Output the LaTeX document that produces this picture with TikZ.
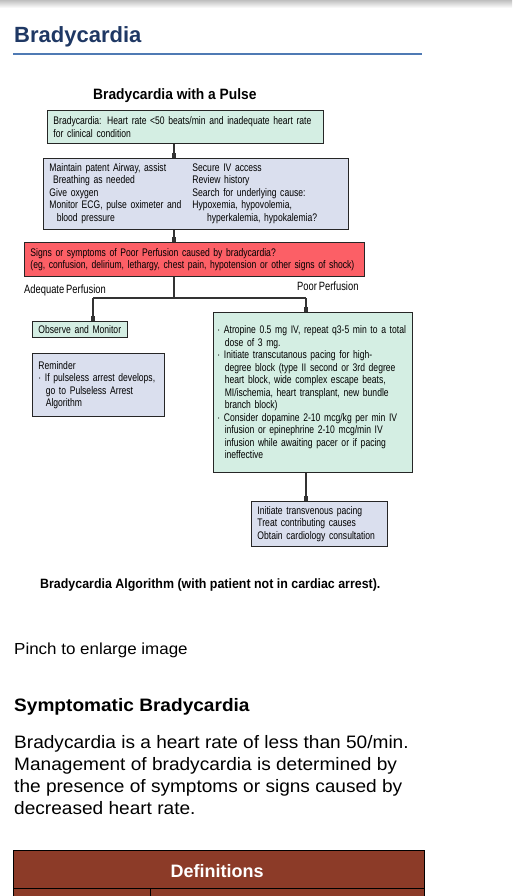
\documentclass[tikz,border=0pt]{standalone}
\usepackage{fontspec}
\setmainfont{Liberation Sans}
\newfontfamily\condfont[FakeStretch=0.78, WordSpace=0.75]{Liberation Sans}
\newfontfamily\capfont[FakeStretch=0.92]{Liberation Sans}
\newfontfamily\pagefont[FakeStretch=1.06]{Liberation Sans}
\usetikzlibrary{
    arrows.meta,
    positioning
}

\definecolor{headblue}{HTML}{1F3864}
\definecolor{ruleblue}{HTML}{4F7AB4}
\definecolor{boxgreen}{HTML}{D4EEE3}
\definecolor{boxlav}{HTML}{DADFEE}
\definecolor{boxred}{HTML}{FC5F66}
\definecolor{linegray}{HTML}{333333}
\definecolor{tablebrown}{HTML}{8C3B28}

\tikzset{
    algbox/.style={draw=black!85, line width=0.9pt, anchor=north west,
        inner xsep=6pt, inner ysep=2pt, align=left,
        font=\condfont\fontsize{11}{12.5}\selectfont},
    flow/.style={draw=linegray, line width=1.5pt},
    flowtip/.style={flow, -{Rectangle[length=5pt,width=4.5pt]}},
    branchlabel/.style={anchor=base west, inner sep=0pt,
        font=\condfont\fontsize{12}{14}\selectfont}
}

\begin{document}
\begin{tikzpicture}[x=1pt, y=-1pt]
                        \useasboundingbox (0,0) rectangle (512,896);
                        \fill[white] (0,0) rectangle (512,896);
                        \shade[top color=black!25, bottom color=white] (0,0) rectangle (512,8);

                        % page heading
                        \node[anchor=base west, inner sep=0pt, text=headblue,
                            font=\bfseries\fontsize{22}{26}\selectfont] (head) at (14,43) {Bradycardia};
                        \draw[ruleblue, line width=2pt] (13,54.5) -- (422,54.5);

                        % algorithm
                        \node[anchor=base west, inner sep=0pt,
                            font=\capfont\bfseries\fontsize{15}{17}\selectfont] (title) at (93,100) {Bradycardia with a Pulse};

                        \node[algbox, fill=boxgreen, text width=264pt, minimum height=33pt] (brady) at (47,110)
                            {Bradycardia: Heart rate <50 beats/min and inadequate heart rate\\for clinical condition};
                        \node[algbox, fill=boxlav, text width=293pt, minimum height=71pt] (support) at (43,158)
                            {\begin{tabular}{@{}p{143pt}@{}l@{}}
                                Maintain patent Airway, assist & Secure IV access\\
                                \ Breathing as needed & Review history\\
                                Give oxygen & Search for underlying cause:\\
                                Monitor ECG, pulse oximeter and & Hypoxemia, hypovolemia,\\
                                \ \ blood pressure & \ \ \ \ hyperkalemia, hypokalemia?
                            \end{tabular}};
                        \node[algbox, fill=boxred, text width=328pt, minimum height=34pt] (perf) at (24,242)
                            {Signs or symptoms of Poor Perfusion caused by bradycardia?\\(eg, confusion, delirium, lethargy, chest pain, hypotension or other signs of shock)};

                        \coordinate (split) at (174,298);
                        \coordinate (adeq) at (93,298);
                        \coordinate (poor) at (306,298);
                        \node[branchlabel] (adeqlbl) at (24,293) {Adequate Perfusion};
                        \node[branchlabel] (poorlbl) at (297,290) {Poor Perfusion};

                        \node[algbox, fill=boxgreen, text width=83pt, minimum height=16pt, inner ysep=1pt] (observe) at (32,321)
                            {Observe and Monitor};
                        \node[algbox, fill=boxlav, text width=120pt, minimum height=63pt] (remind) at (32,353)
                            {Reminder\\· If pulseless arrest develops,\\\ \ go to Pulseless Arrest\\\ \ Algorithm};
                        \node[algbox, fill=boxgreen, text width=191pt, inner xsep=4pt, minimum height=160pt] (atropine) at (213,312)
                            {· Atropine 0.5 mg IV, repeat q3-5 min to a total\\
                             \ \ dose of 3 mg.\\
                             · Initiate transcutanous pacing for high-\\
                             \ \ degree block (type II second or 3rd degree\\
                             \ \ heart block, wide complex escape beats,\\
                             \ \ MI/ischemia, heart transplant, new bundle\\
                             \ \ branch block)\\
                             · Consider dopamine 2-10 mcg/kg per min IV\\
                             \ \ infusion or epinephrine 2-10 mcg/min IV\\
                             \ \ infusion while awaiting pacer or if pacing\\
                             \ \ ineffective\\[12pt]};
                        \node[algbox, fill=boxlav, text width=124pt, minimum height=45pt] (pacing) at (251,501)
                            {Initiate transvenous pacing\\Treat contributing causes\\Obtain cardiology consultation};

                        \draw[flowtip] (brady.south -| split) -- (support.north -| split);
                        \draw[flowtip] (support.south -| split) -- (perf.north -| split);
                        \draw[flow] (perf.south -| split) -- (split);
                        \draw[flow] (adeq) -- (poor);
                        \draw[flowtip] (adeq) -- (observe.north -| adeq);
                        \draw[flowtip] (poor) -- (atropine.north -| poor);
                        \draw[flowtip] (atropine.south -| poor) -- (pacing.north -| poor);

                        \node[anchor=base west, inner sep=0pt,
                            font=\capfont\bfseries\fontsize{13.5}{16}\selectfont] (caption) at (40,588)
                            {Bradycardia Algorithm (with patient not in cardiac arrest).};

                        % page text
                        \node[anchor=base west, inner sep=0pt, font=\pagefont\fontsize{16}{19}\selectfont] (pinch) at (14,654)
                            {Pinch to enlarge image};
                        \node[anchor=base west, inner sep=0pt, font=\pagefont\bfseries\fontsize{18}{22}\selectfont] (symhead) at (14,711)
                            {Symptomatic Bradycardia};
                        \node[anchor=north west, inner sep=0pt, align=left, font=\pagefont\fontsize{18}{22}\selectfont] (para) at (14,735)
                            {Bradycardia is a heart rate of less than 50/min.\\
                             Management of bradycardia is determined by\\
                             the presence of symptoms or signs caused by\\
                             decreased heart rate.};

                        % definitions table
                        \draw[fill=tablebrown, line width=1pt] (13,850) rectangle (424,888);
                        \draw[fill=tablebrown, line width=1pt] (13,888) rectangle (424,900);
                        \draw[line width=1pt] (150,888) -- (150,900);
                        \node[text=white, inner sep=0pt, anchor=base, font=\bfseries\fontsize{18}{22}\selectfont] (defs) at (217,877)
                            {Definitions};
                    \end{tikzpicture}
\end{document}
